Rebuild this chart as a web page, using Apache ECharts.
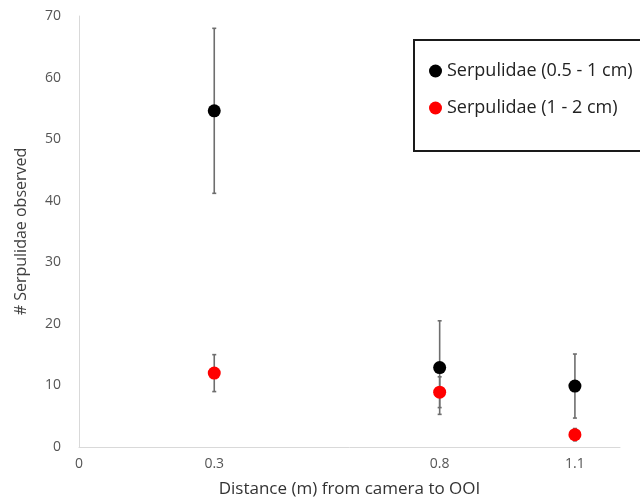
<!DOCTYPE html>
<html>
<head>
<meta charset="utf-8">
<script src="https://cdn.jsdelivr.net/npm/echarts@6/dist/echarts.min.js"></script>
<style>
  html, body { margin: 0; padding: 0; background: #fff; }
  #main { width: 640px; height: 502px; }
</style>
</head>
<body>
<div id="main"></div>
<script>
const distances = [0.3, 0.8, 1.1];
const xTickLabels = [0, 0.3, 0.8, 1.1];
const smallMean = [54.6, 12.9, 9.9];
const smallErr = [13.4, 7.6, 5.2];
const largeMean = [12.0, 8.9, 2.0];
const largeErr = [3.0, 2.5, 1.0];

const smallName = 'Serpulidae (0.5 - 1 cm)';
const largeName = 'Serpulidae (1 - 2 cm)';

const myChart = echarts.init(document.getElementById('main'));

function errorData(means, errs) {
  return distances.map((d, i) => [d, means[i] - errs[i], means[i] + errs[i]]);
}

function renderError(params, api) {
  const x = api.value(0);
  const top = api.coord([x, api.value(2)]);
  const bot = api.coord([x, api.value(1)]);
  const style = { stroke: '#6e6e6e', lineWidth: 1.6 };
  return {
    type: 'group',
    children: [
      { type: 'line', shape: { x1: top[0], y1: top[1], x2: bot[0], y2: bot[1] }, style },
      { type: 'line', shape: { x1: top[0] - 2, y1: top[1], x2: top[0] + 2, y2: top[1] }, style },
      { type: 'line', shape: { x1: bot[0] - 2, y1: bot[1], x2: bot[0] + 2, y2: bot[1] }, style },
    ],
  };
}

const option = {
  animation: false,
  textStyle: { fontFamily: 'Open Sans' },
  grid: { left: 79, right: 20, top: 16, bottom: 55, outerBoundsMode: 'none' },
  legend: {
    data: [smallName, largeName],
    orient: 'vertical',
    left: 414,
    top: 40,
    padding: [22, 30, 34, 15],
    itemGap: 19,
    icon: 'circle',
    itemWidth: 13,
    itemHeight: 13,
    borderColor: '#1a1a1a',
    borderWidth: 2,
    textStyle: { fontSize: 18, color: '#222', fontFamily: 'Open Sans' },
  },
  xAxis: {
    type: 'value',
    min: 0,
    max: 1.2,
    name: 'Distance (m) from camera to OOI',
    nameLocation: 'middle',
    nameGap: 34,
    nameTextStyle: { fontSize: 17, color: '#333' },
    splitLine: { show: false },
    axisTick: { show: false },
    axisLine: { lineStyle: { color: '#d9d9d9' } },
    axisLabel: {
      customValues: xTickLabels,
      margin: 10,
      fontSize: 14,
      color: '#555',
      formatter: (v) => (v === 0.3 ? '{up|0.3}' : String(v)),
      rich: { up: { fontSize: 14, color: '#555', padding: [0, 0, 14, 0] } },
    },
  },
  yAxis: {
    type: 'value',
    min: 0,
    max: 70,
    interval: 10,
    name: '# Serpulidae observed',
    nameLocation: 'middle',
    nameGap: 50,
    nameTextStyle: { fontSize: 16, color: '#404040' },
    splitLine: { show: false },
    axisTick: { show: false },
    axisLine: { show: true, lineStyle: { color: '#d9d9d9' } },
    axisLabel: { fontSize: 14, color: '#555', margin: 18 },
  },
  series: [
    {
      type: 'custom',
      name: smallName + ' err',
      renderItem: renderError,
      data: errorData(smallMean, smallErr),
      encode: { x: 0, y: [1, 2] },
      z: 1,
      silent: true,
    },
    {
      type: 'custom',
      name: largeName + ' err',
      renderItem: renderError,
      data: errorData(largeMean, largeErr),
      encode: { x: 0, y: [1, 2] },
      z: 1,
      silent: true,
    },
    {
      type: 'scatter',
      name: smallName,
      data: distances.map((d, i) => [d, smallMean[i]]),
      symbolSize: 13,
      itemStyle: { color: '#000', opacity: 1 },
      z: 3,
    },
    {
      type: 'scatter',
      name: largeName,
      data: distances.map((d, i) => [d, largeMean[i]]),
      symbolSize: 13,
      itemStyle: { color: '#ff0000', opacity: 1 },
      z: 4,
    },
  ],
};

myChart.setOption(option);
</script>
</body>
</html>
